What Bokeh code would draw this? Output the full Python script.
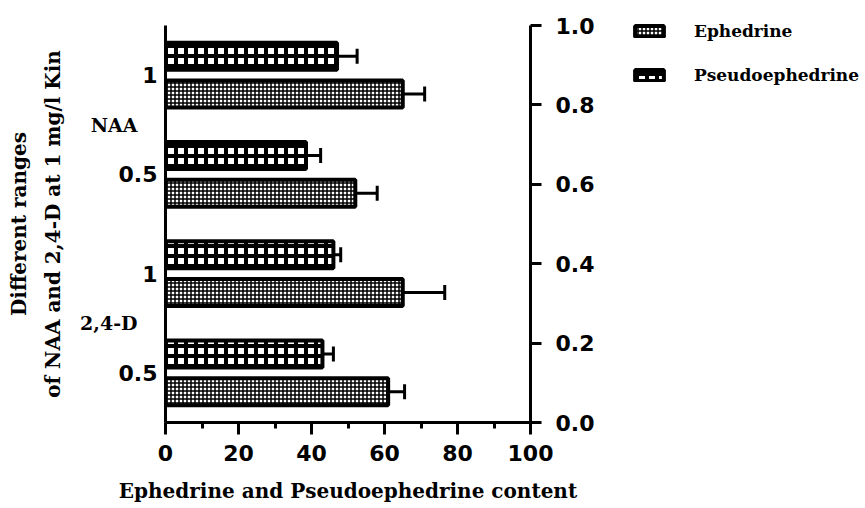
import math
from bokeh.plotting import figure
from bokeh.models import (Range1d, LinearAxis, Legend, LegendItem,
                          FixedTicker, NumeralTickFormatter, ColumnDataSource, SingleIntervalTicker)
from bokeh.transform import dodge
from bokeh.embed import file_html
from bokeh.resources import INLINE

# ---- data (bottom to top) ----
hormones = ["2,4-D", "2,4-D", "NAA", "NAA"]
concentrations = ["0.5", "1", "0.5", "1"]
ephedrine = [61, 65, 52, 65]
ephedrine_err = [4.5, 11.5, 6, 6]
pseudoephedrine = [43, 46, 38.5, 47]
pseudoephedrine_err = [3, 2, 4, 5.5]
right_ticks = [0.0, 0.2, 0.4, 0.6, 0.8, 1.0]
group_names = ["2,4-D", "NAA"]

# category slot centres (one slot per hormone/concentration pair)
slots = [i + 0.5 for i in range(len(concentrations))]
group_pos = [sum(s for s, h in zip(slots, hormones) if h == g) / hormones.count(g) for g in group_names]

src = ColumnDataSource(dict(
    slot=slots,
    eph=ephedrine,
    eph_hi=[v + e for v, e in zip(ephedrine, ephedrine_err)],
    pse=pseudoephedrine,
    pse_hi=[v + e for v, e in zip(pseudoephedrine, pseudoephedrine_err)],
))

p = figure(y_range=Range1d(0, len(slots)), x_range=Range1d(0, 100),
           frame_width=365, frame_height=397,
           min_border_left=165, min_border_right=335, min_border_top=25, min_border_bottom=86,
           output_backend="svg", toolbar_location=None)
p.outline_line_color = None
p.xgrid.grid_line_color = None
p.ygrid.grid_line_color = None
p.extra_y_ranges = {"right": Range1d(0, 1)}

BOFF = 0.19
BH = 0.27

r_eph = p.hbar(y=dodge('slot', -BOFF, range=p.y_range), left=0, right='eph', height=BH,
               fill_color="white", line_color="black", line_width=4,
               hatch_pattern="+", hatch_scale=4, hatch_weight=1.5, hatch_color="black", source=src)
r_pse = p.hbar(y=dodge('slot', BOFF, range=p.y_range), left=0, right='pse', height=BH,
               fill_color="white", line_color="black", line_width=4,
               hatch_pattern="+", hatch_scale=10, hatch_weight=4, hatch_color="black", source=src)

for val, hi, off in (("eph", "eph_hi", -BOFF), ("pse", "pse_hi", BOFF)):
    p.segment(x0=val, x1=hi, y0=dodge('slot', off, range=p.y_range), y1=dodge('slot', off, range=p.y_range),
              line_width=3, line_color="black", source=src)
    p.scatter(x=hi, y=dodge('slot', off, range=p.y_range), marker="dash", angle=math.pi / 2,
              size=15, line_width=3, line_color="black", source=src)

TICKFONT = "DejaVu Sans"
SERIF = "DejaVu Serif"


def style_ticklabels(ax):
    ax.major_label_text_font = TICKFONT
    ax.major_label_text_font_style = "bold"
    ax.major_label_text_font_size = "22px"
    ax.major_label_text_color = "black"


# left axis: concentrations
ya = p.yaxis[0]
ya.ticker = FixedTicker(ticks=slots, minor_ticks=[])
ya.major_label_overrides = {s: c for s, c in zip(slots, concentrations)}
ya.axis_line_width = 3
ya.major_tick_line_color = None
ya.minor_tick_line_color = None
ya.major_tick_in = 0
ya.major_tick_out = 0
ya.minor_tick_in = 0
ya.minor_tick_out = 0
style_ticklabels(ya)
ya.major_label_standoff = 8

# second left axis: hormone groups + title
ga = LinearAxis(ticker=FixedTicker(ticks=group_pos, minor_ticks=[]),
                major_label_overrides={gp: g for gp, g in zip(group_pos, group_names)})
ga.axis_line_color = None
ga.major_tick_line_color = None
ga.minor_tick_line_color = None
ga.major_tick_in = 0
ga.major_tick_out = 0
ga.minor_tick_in = 0
ga.minor_tick_out = 0
ga.major_label_text_font = SERIF
ga.major_label_text_font_style = "bold"
ga.major_label_text_font_size = "19px"
ga.major_label_text_color = "black"
ga.major_label_standoff = -22
ga.axis_label = "Different ranges\nof NAA and 2,4-D at 1 mg/l Kin"
ga.axis_label_text_font = SERIF
ga.axis_label_text_font_style = "bold"
ga.axis_label_text_font_size = "20px"
ga.axis_label_text_color = "black"
ga.axis_label_text_line_height = 1.41
ga.axis_label_standoff = 12
p.add_layout(ga, "left")

# bottom axis
xa = p.xaxis[0]
xa.ticker = SingleIntervalTicker(interval=20, num_minor_ticks=2)
xa.axis_line_width = 3
xa.major_tick_line_width = 3
xa.minor_tick_line_width = 3
xa.major_tick_in = 0
xa.major_tick_out = 12
xa.minor_tick_in = 0
xa.minor_tick_out = 6
style_ticklabels(xa)
xa.major_label_standoff = 10
xa.axis_label = "Ephedrine and Pseudoephedrine content"
xa.axis_label_text_font = SERIF
xa.axis_label_text_font_style = "bold"
xa.axis_label_text_font_size = "20px"
xa.axis_label_text_color = "black"
xa.axis_label_standoff = 15

# right axis
ra = LinearAxis(y_range_name="right", ticker=FixedTicker(ticks=right_ticks, minor_ticks=[]),
                formatter=NumeralTickFormatter(format="0.0"))
ra.axis_line_width = 3
ra.major_tick_line_width = 3
ra.major_tick_in = 0
ra.major_tick_out = 11
style_ticklabels(ra)
ra.major_label_standoff = 14
p.add_layout(ra, "right")

legend = Legend(items=[LegendItem(label="Ephedrine", renderers=[r_eph]),
                       LegendItem(label="Pseudoephedrine", renderers=[r_pse])],
                location=(-198, 337), orientation="vertical")
legend.border_line_color = None
legend.background_fill_alpha = 0
legend.padding = 0
legend.margin = 0
legend.spacing = 24
legend.glyph_width = 36
legend.glyph_height = 14
legend.label_height = 18
legend.label_standoff = 27
legend.label_text_font = SERIF
legend.label_text_font_style = "bold"
legend.label_text_font_size = "17px"
legend.label_text_color = "black"
p.add_layout(legend, "right")

open("out.html", "w").write(file_html(p, INLINE))
